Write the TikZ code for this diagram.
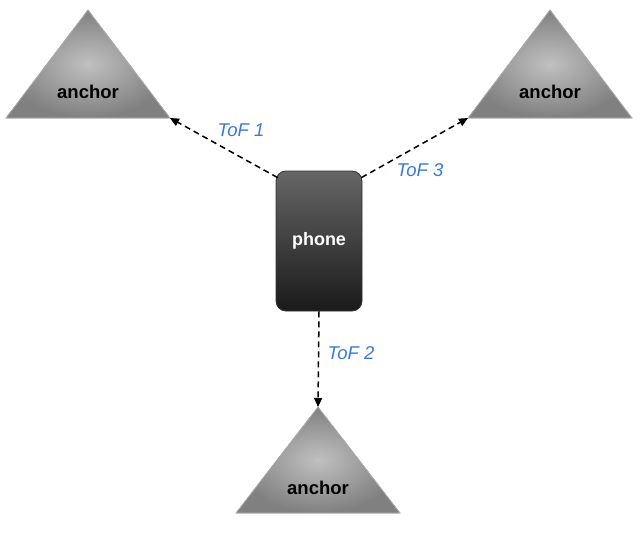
\documentclass[tikz,border=0pt]{standalone}
\usepackage{fontspec}
\setmainfont{Liberation Sans}
\usetikzlibrary{arrows.meta,calc,positioning}
\definecolor{tofblue}{RGB}{58,122,214}
\definecolor{anchorin}{RGB}{192,192,192}
\definecolor{anchorout}{RGB}{128,128,128}
\definecolor{anchorline}{RGB}{175,175,175}
\definecolor{phonetop}{RGB}{102,102,102}
\definecolor{phonebot}{RGB}{26,26,26}

\begin{document}
\begin{tikzpicture}[x=1pt,y=-1pt,>={Triangle[length=9pt,width=8pt]},
    anchortri/.style={draw=anchorline,line width=.8pt,shading=radial,
      inner color=anchorin,outer color=anchorout},
    anchorlbl/.style={font=\fontsize{18.5}{20}\selectfont\bfseries,text=black},
    phonebox/.style={draw=black!80,line width=.8pt,rounded corners=10pt,
      minimum width=86pt,minimum height=140pt,top color=phonetop,
      bottom color=phonebot,text=white,font=\fontsize{18}{20}\selectfont\bfseries},
    tof/.style={->,line width=1.5pt,dash pattern=on 6pt off 4pt},
    toflbl/.style={text=tofblue,font=\fontsize{18.5}{20}\selectfont\itshape}]
  \useasboundingbox (0,0) rectangle (643,538);
  % anchors
  \filldraw[anchortri] (88,10) coordinate (a1top) -- (170,118) coordinate (a1r)
    -- (6,118) coordinate (a1l) -- cycle;
  \node[anchorlbl] (a1) at (88,92) {anchor};
  \filldraw[anchortri] (550,10) coordinate (a3top) -- (632,118) coordinate (a3r)
    -- (468,118) coordinate (a3l) -- cycle;
  \node[anchorlbl] (a3) at (550,92) {anchor};
  \filldraw[anchortri] (318,407) coordinate (a2top) -- (400,513) coordinate (a2r)
    -- (236,513) coordinate (a2l) -- cycle;
  \node[anchorlbl] (a2) at (318,488) {anchor};
  % phone
  \node[phonebox] (phone) at (319,241) {phone};
  % time of flight
  \draw[tof] ([xshift=2pt,yshift=-7pt]phone.north west) -- (a1r);
  \draw[tof] ([xshift=-1pt,yshift=-7pt]phone.north east) -- (a3l);
  \draw[tof] (phone.south) -- (a2top);
  \node[toflbl] (tof1) at (241,130) {ToF 1};
  \node[toflbl] (tof3) at (420,170) {ToF 3};
  \node[toflbl] (tof2) at (351,353) {ToF 2};
\end{tikzpicture}
\end{document}
